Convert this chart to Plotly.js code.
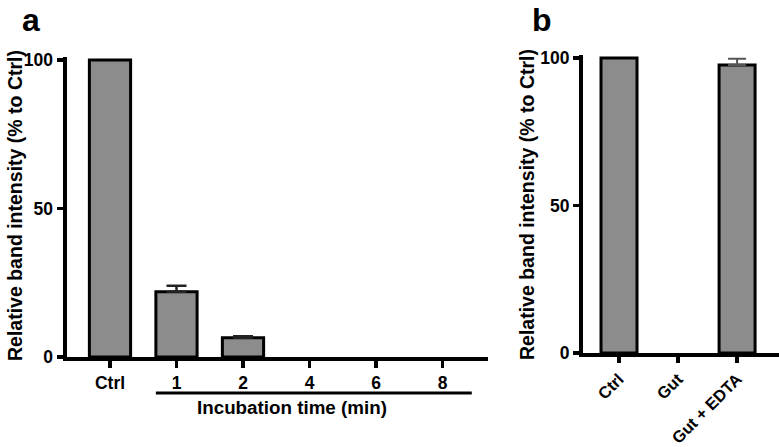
<!DOCTYPE html>
<html>
<head>
<meta charset="utf-8">
<script src="https://cdn.plot.ly/plotly-3.0.1.min.js"></script>
<style>html,body{margin:0;padding:0;background:#fff}#chart{width:779px;height:447px}</style>
</head>
<body>
<div id="chart"></div>
<script>
// Panel a
const catsA = ['Ctrl', '1', '2', '4', '6', '8'];
const valsA = [100, 22, 6.5, 0, 0, 0];
const errA = [null, 2, 0.5, null, null, null];
// Panel b
const catsB = ['Ctrl', 'Gut', 'Gut + EDTA'];
const valsB = [100, 0, 97.6];
const errB = [null, null, 2.1];
const yTicks = [0, 50, 100];

const FONT = 'Liberation Sans, Arial, Helvetica, sans-serif';
const barFill = '#8c8c8c';

function errTrace(cats, vals, errs, xa, ya, color, thick, w) {
  const idx = errs.map((e, i) => (e != null ? i : -1)).filter(i => i >= 0);
  return {
    type: 'scatter', mode: 'markers', xaxis: xa, yaxis: ya,
    x: idx.map(i => cats[i]), y: idx.map(i => vals[i]),
    marker: {size: 1, opacity: 0},
    error_y: {type: 'data', symmetric: false, array: idx.map(i => errs[i]),
              arrayminus: idx.map(() => 0), color: color, thickness: thick, width: w},
    hoverinfo: 'skip', showlegend: false, cliponaxis: false
  };
}

const traces = [
  {
    type: 'bar', x: catsA, y: valsA, xaxis: 'x', yaxis: 'y', width: 0.62,
    marker: {color: barFill, line: {color: '#000', width: valsA.map(v => v > 0 ? 3 : 0)}},
    hoverinfo: 'skip', showlegend: false
  },
  {
    type: 'bar', x: catsB, y: valsB, xaxis: 'x2', yaxis: 'y2', width: 0.61,
    marker: {color: barFill, line: {color: '#000', width: valsB.map(v => v > 0 ? 3 : 0)}},
    hoverinfo: 'skip', showlegend: false
  },
  errTrace(catsA, valsA, errA, 'x', 'y', '#222', 2.5, 10),
  errTrace(catsB, valsB, errB, 'x2', 'y2', '#555', 2, 9)
];

const axisCommon = {
  showgrid: false, zeroline: false, showline: true, linecolor: '#000', linewidth: 4,
  ticks: 'outside', ticklen: 7, tickwidth: 3.5, tickcolor: '#000',
  tickfont: {family: FONT, size: 17.5, color: '#000', weight: 700},
  fixedrange: true
};

const layout = {
  width: 779, height: 447,
  margin: {l: 0, r: 0, t: 0, b: 0},
  paper_bgcolor: '#fff', plot_bgcolor: '#fff',
  bargap: 0.35,
  xaxis: Object.assign({}, axisCommon, {
    domain: [66.5 / 779, 488 / 779], type: 'category', range: [-0.654, 5.684],
    anchor: 'y'
  }),
  yaxis: Object.assign({}, axisCommon, {
    domain: [(447 - 357) / 447, (447 - 57) / 447], range: [0, 101],
    tickvals: yTicks, ticktext: yTicks.map(String), ticklen: 6, anchor: 'x'
  }),
  xaxis2: Object.assign({}, axisCommon, {
    domain: [583 / 779, 1], type: 'category', range: [-0.61, 2.71],
    tickangle: -45, anchor: 'y2', ticklen: 6,
    tickfont: {family: FONT, size: 16.5, color: '#000', weight: 700}
  }),
  yaxis2: Object.assign({}, axisCommon, {
    domain: [(447 - 353) / 447, (447 - 55) / 447], range: [0, 101],
    tickvals: yTicks, ticktext: yTicks.map(String), ticklen: 6, anchor: 'x2'
  }),
  shapes: [
    {type: 'line', xref: 'x', yref: 'paper', x0: 0.69, x1: 5.44,
     y0: (447 - 393) / 447, y1: (447 - 393) / 447, line: {color: '#000', width: 3}}
  ],
  annotations: [
    {text: 'a', xref: 'paper', yref: 'paper', x: 31 / 779, y: 1,
     xanchor: 'center', yanchor: 'top', showarrow: false,
     font: {family: FONT, size: 32, color: '#000', weight: 700}},
    {text: 'b', xref: 'paper', yref: 'paper', x: 542 / 779, y: 1,
     xanchor: 'center', yanchor: 'top', showarrow: false,
     font: {family: FONT, size: 32, color: '#000', weight: 700}},
    {text: 'Relative band intensity (% to Ctrl)', xref: 'paper', yref: 'paper',
     x: 15 / 779, y: (447 - 206) / 447, xanchor: 'center', yanchor: 'middle',
     textangle: -90, showarrow: false,
     font: {family: FONT, size: 19.5, color: '#000', weight: 700}},
    {text: 'Relative band intensity (% to Ctrl)', xref: 'paper', yref: 'paper',
     x: 527 / 779, y: (447 - 205) / 447, xanchor: 'center', yanchor: 'middle',
     textangle: -90, showarrow: false,
     font: {family: FONT, size: 19.5, color: '#000', weight: 700}},
    {text: 'Incubation time (min)', xref: 'paper', yref: 'paper',
     x: 291.5 / 779, y: (447 - 407) / 447, xanchor: 'center', yanchor: 'middle',
     showarrow: false,
     font: {family: FONT, size: 18.8, color: '#000', weight: 700}}
  ]
};

Plotly.newPlot('chart', traces, layout, {staticPlot: true, displayModeBar: false});
</script>
</body>
</html>
